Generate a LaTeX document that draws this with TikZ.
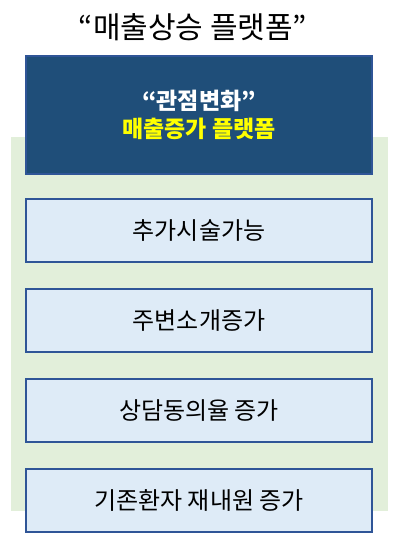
\documentclass[tikz,border=0pt]{standalone}
\usepackage{fontspec}
\setmainfont{Noto Sans CJK KR}
\usetikzlibrary{positioning}
\definecolor{platnavy}{HTML}{1F4E79}
\definecolor{platline}{HTML}{2F5597}
\definecolor{itemfill}{HTML}{DEEBF7}
\definecolor{platgreen}{HTML}{E2EFDA}
\definecolor{platyellow}{HTML}{FFFF00}

\begin{document}
\begin{tikzpicture}[x=1pt, y=-1pt,
    headbox/.style={draw=platline, line width=1.5pt, fill=platnavy, minimum width=346pt, minimum height=118pt, inner sep=0pt, align=center, font=\bfseries\fontsize{23}{28}\selectfont},
    itembox/.style={draw=platline, line width=1.5pt, fill=itemfill, minimum width=346pt, minimum height=63pt, inner sep=0pt, font=\fontsize{24}{27}\selectfont}]

    \useasboundingbox (0,0) rectangle (403,552);

    % background panel
    \fill[platgreen] (11,137) rectangle (388,511);

    \node[font=\fontsize{30}{34}\selectfont] (title) at (193,27) {“매출상승 플랫폼”};

    \node[headbox] (head) at (199,115) {\textcolor{white}{“관점변화”}\\\textcolor{platyellow}{매출증가 플랫폼}};

    \node[itembox] (item1) at (199,230.5) {추가시술가능};
    \node[itembox, below=25.5pt of item1] (item2) {주변소개증가};
    \node[itembox, below=25.5pt of item2] (item3) {상담동의율 증가};
    \node[itembox, below=25.5pt of item3] (item4) {기존환자 재내원 증가};

\end{tikzpicture}
\end{document}
